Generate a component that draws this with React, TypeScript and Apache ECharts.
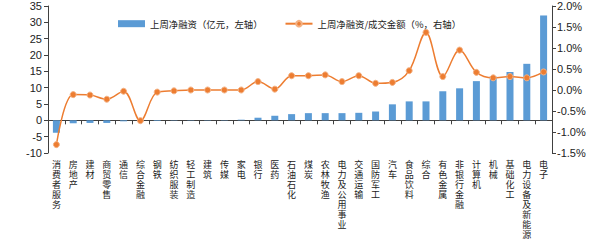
import React, { useEffect, useRef } from "react";
import * as echarts from "echarts";

const categories = [
  "消费者服务", "房地产", "建材", "商贸零售", "通信", "综合金融", "钢铁", "纺织服装", "轻工制造", "建筑",
  "传媒", "家电", "银行", "医药", "石油石化", "煤炭", "农林牧渔", "电力及公用事业", "交通运输", "国防军工",
  "汽车", "食品饮料", "综合", "有色金属", "非银行金融", "计算机", "机械", "基础化工", "电力设备及新能源", "电子",
];

const netFinancing = [
  -3.8, -0.9, -0.8, -0.8, -0.3, -0.1, -0.2, 0.1, 0.1, 0.1,
  0.1, 0.2, 0.8, 1.4, 1.9, 2.2, 2.2, 2.2, 2.3, 2.7,
  4.9, 5.8, 5.8, 8.9, 9.8, 12.0, 13.4, 14.8, 17.3, 32.1,
];

const ratioPct = [
  -1.3, -0.11, -0.12, -0.22, -0.03, -0.73, -0.05, -0.02, 0.0, 0.0,
  0.0, 0.0, 0.2, 0.02, 0.34, 0.34, 0.36, 0.2, 0.34, 0.16,
  0.18, 0.46, 1.37, 0.32, 0.95, 0.42, 0.29, 0.32, 0.29, 0.43,
];

const barName = "上周净融资（亿元，左轴）";
const lineName = "上周净融资/成交金额（%，右轴）";

export default function App() {
  const ref = useRef<HTMLDivElement>(null);
  useEffect(() => {
    if (!ref.current) return;
    const chart = echarts.init(ref.current, null, { renderer: "svg" });
    const axisColor = "#404040";
    const textColor = "#222";
    chart.setOption({
      animation: false,
      grid: { left: 48, right: 48, top: 6, bottom: 91, outerBoundsMode: "none", containLabel: false },
      legend: {
        left: 113,
        top: 14,
        itemWidth: 27,
        itemHeight: 7,
        itemGap: 22,
        textStyle: { fontSize: 9.4, color: textColor, fontFamily: "Noto Sans CJK SC" },
        data: [
          { name: barName, icon: "rect" },
          { name: lineName },
        ],
      },
      xAxis: {
        type: "category",
        data: categories,
        axisLine: { onZero: true, lineStyle: { color: axisColor, width: 1 } },
        axisTick: { show: true, length: 4, lineStyle: { color: axisColor } },
        axisLabel: {
          interval: 0,
          margin: 7,
          fontSize: 9,
          lineHeight: 10,
          color: textColor,
          fontFamily: "'Liberation Sans', 'Noto Sans CJK SC'",
          verticalAlign: "top",
          formatter: (v: string) => v.split("").join("\n"),
        },
      },
      yAxis: [
        {
          type: "value",
          min: -10,
          max: 35,
          interval: 5,
          axisLine: { show: true, lineStyle: { color: axisColor } },
          axisTick: { show: true, length: 4, lineStyle: { color: axisColor } },
          splitLine: { show: false },
          axisLabel: { fontSize: 11, color: textColor, fontFamily: "Liberation Sans", margin: 6 },
        },
        {
          type: "value",
          min: -1.5,
          max: 2.0,
          interval: 0.5,
          axisLine: { show: true, lineStyle: { color: axisColor } },
          axisTick: { show: true, length: 4, lineStyle: { color: axisColor } },
          splitLine: { show: false },
          axisLabel: {
            fontSize: 11,
            color: textColor,
            fontFamily: "Liberation Sans",
            margin: 5,
            formatter: (v: number) => v.toFixed(1) + "%",
          },
        },
      ],
      series: [
        {
          name: barName,
          type: "bar",
          data: netFinancing,
          yAxisIndex: 0,
          barWidth: 7,
          itemStyle: { color: "#5B9BD5" },
        },
        {
          name: lineName,
          type: "line",
          data: ratioPct,
          yAxisIndex: 1,
          smooth: 0.35,
          symbol: "circle",
          symbolSize: 6,
          lineStyle: { color: "#ED7D31", width: 1.5 },
          itemStyle: { color: "#ED7D31", borderColor: "#F4B183", borderWidth: 1 },
        },
      ],
    });
    return () => chart.dispose();
  }, []);
  return (
    <div
      ref={ref}
      style={{ position: "fixed", left: 0, top: 0, width: 600, height: 244, background: "#fff" }}
    />
  );
}
